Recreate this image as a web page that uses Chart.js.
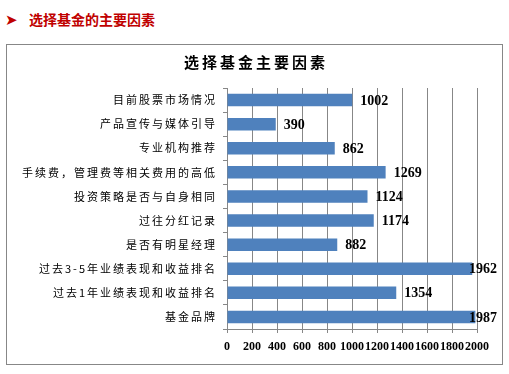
<!DOCTYPE html>
<html>
<head>
<meta charset="utf-8">
<script src="https://cdn.jsdelivr.net/npm/chart.js@4"></script>
<style>
  html, body { margin: 0; padding: 0; background: #fff; }
  body { width: 509px; height: 374px; position: relative; overflow: hidden; }
  #heading { position: absolute; left: 5px; top: 8px; color: #c00000; font: bold 14px 'Noto Sans CJK SC', sans-serif; line-height: 22px; white-space: nowrap; }
  #heading .arrow { font-family: 'DejaVu Sans', sans-serif; font-size: 15px; display: inline-block; width: 24px; }
  #box { position: absolute; left: 6px; top: 44px; width: 495px; height: 319px; border: 1px solid #878787; }
  #c { position: absolute; left: 0; top: 0; }
</style>
</head>
<body>
<div id="heading"><span class="arrow">➤</span>选择基金的主要因素</div>
<div id="box"></div>
<canvas id="c" width="509" height="374"></canvas>
<script>
const chartTitle = '选择基金主要因素';
const categories = [
  '目前股票市场情况',
  '产品宣传与媒体引导',
  '专业机构推荐',
  '手续费，管理费等相关费用的高低',
  '投资策略是否与自身相同',
  '过往分红记录',
  '是否有明星经理',
  '过去3-5年业绩表现和收益排名',
  '过去1年业绩表现和收益排名',
  '基金品牌'
];
const values = [1002, 390, 862, 1269, 1124, 1174, 882, 1962, 1354, 1987];
const xTickValues = [0, 200, 400, 600, 800, 1000, 1200, 1400, 1600, 1800, 2000];

const spacingPlugin = {
  id: 'spacing',
  beforeDraw(chart) {
    if (chart.$patched) return;
    chart.$patched = true;
    const ys = chart.scales.y;
    const origY = ys.drawLabels.bind(ys);
    ys.drawLabels = function (area) {
      const ctx = chart.ctx;
      ctx.save();
      ctx.letterSpacing = '2px';
      origY(area);
      ctx.restore();
    };
    const tb = chart.titleBlock;
    const origT = tb.draw.bind(tb);
    tb.draw = function () {
      const ctx = chart.ctx;
      ctx.save();
      ctx.letterSpacing = '3px';
      ctx.translate(17.5, -1);
      origT();
      ctx.restore();
    };
  }
};

const valueLabels = {
  id: 'valueLabels',
  afterDatasetsDraw(chart) {
    const ctx = chart.ctx;
    const meta = chart.getDatasetMeta(0);
    ctx.save();
    ctx.font = 'bold 14px "Liberation Serif", "Times New Roman", serif';
    ctx.fillStyle = '#000';
    ctx.textAlign = 'left';
    ctx.textBaseline = 'middle';
    meta.data.forEach((el, i) => {
      const txt = String(values[i]);
      const w = ctx.measureText(txt).width;
      const tx = Math.min(el.x + 8, 497 - w);
      ctx.fillText(txt, tx, el.y + 1);
    });
    ctx.restore();
  }
};

new Chart(document.getElementById('c'), {
  type: 'bar',
  data: {
    labels: categories,
    datasets: [{
      data: values,
      backgroundColor: '#4f81bd',
      borderWidth: 0,
      barPercentage: 0.52,
      categoryPercentage: 1
    }]
  },
  options: {
    indexAxis: 'y',
    responsive: false,
    animation: false,
    devicePixelRatio: 1,
    layout: { padding: { top: 50, right: 32, bottom: 11, left: 0 } },
    plugins: {
      legend: { display: false },
      tooltip: { enabled: false },
      title: {
        display: true,
        text: chartTitle,
        color: '#000',
        font: { family: "'Noto Sans CJK SC', sans-serif", size: 15, weight: 'bold', lineHeight: 1.2 },
        padding: { top: 4, bottom: 16 }
      }
    },
    scales: {
      x: {
        min: 0,
        max: 2000,
        afterBuildTicks(scale) { scale.ticks = xTickValues.map(v => ({ value: v })); },
        afterFit(scale) { scale.height = 34; },
        ticks: {
          autoSkip: false,
          maxRotation: 0,
          minRotation: 0,
          padding: 7,
          color: '#000',
          font: { family: "'Liberation Serif', serif", size: 12, weight: 'bold' },
          callback: (v) => String(v)
        },
        grid: { color: '#878787', lineWidth: 1, tickLength: 4, drawOnChartArea: true },
        border: { color: '#878787', width: 1 }
      },
      y: {
        afterFit(scale) { scale.width = 227; },
        ticks: {
          autoSkip: false,
          padding: 6,
          color: '#000',
          font: { family: "'Noto Sans CJK SC', sans-serif", size: 11 }
        },
        grid: { color: '#878787', drawOnChartArea: false, tickLength: 4, offset: true },
        border: { color: '#878787', width: 1 }
      }
    }
  },
  plugins: [spacingPlugin, valueLabels]
});
</script>
</body>
</html>
